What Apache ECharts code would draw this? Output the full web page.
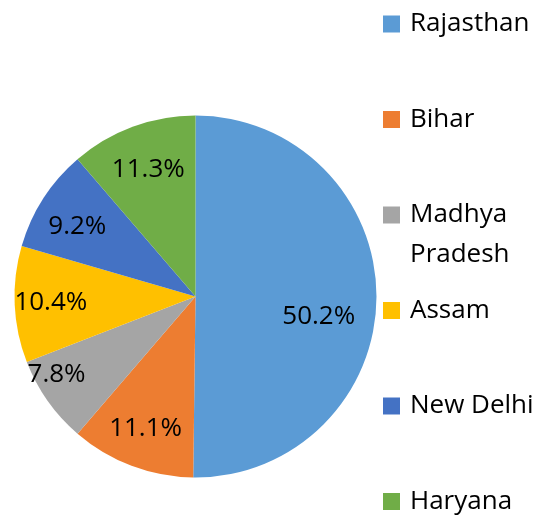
<!DOCTYPE html>
<html>
<head>
<meta charset="utf-8">
<script src="https://cdn.jsdelivr.net/npm/echarts@6/dist/echarts.min.js"></script>
<style>
  html, body { margin: 0; padding: 0; background: #fff; }
  #chart { width: 546px; height: 517px; }
</style>
</head>
<body>
<div id="chart"></div>
<script>
// states and their share (%)
const states = ['Rajasthan', 'Bihar', 'Madhya Pradesh', 'Assam', 'New Delhi', 'Haryana'];
const shares = [50.2, 11.1, 7.8, 10.4, 9.2, 11.3];
const colors = ['#5B9BD5', '#ED7D31', '#A5A5A5', '#FFC000', '#4472C4', '#70AD47'];

// label placement (fraction of radius, angular nudge in degrees) - mimics excel best fit
const labelDist = [0.69, 0.78, 0.88, 0.80, 0.76, 0.75];
const labelNudge = [9, 0, 6, 0, -2, 0];

const cx = 195.5, cy = 296.5, R = 181;
const font = '"Open Sans", sans-serif';

let chart = echarts.init(document.getElementById('chart'));

let total = shares.reduce((a, b) => a + b, 0);
let mids = [];
let acc = 0;
shares.forEach(v => {
    mids.push((acc + v / 2) / total * 360);
    acc += v;
});

// one legend per item so the two-line entry can keep its icon on the first line
let legends = states.map((name, i) => ({
    data: [name],
    orient: 'vertical',
    left: 383,
    top: 24 + i * 95.5 - (name === 'Madhya Pradesh' ? 60 : 20),
    padding: 0,
    itemWidth: 17,
    itemHeight: 17,
    icon: 'rect',
    selectedMode: false,
    formatter: n => n === 'Madhya Pradesh' ? ' \nMadhya\nPradesh' : n,
    textStyle: {
        fontSize: 26,
        lineHeight: 40,
        color: '#000',
        fontFamily: font,
        padding: [0, 0, 0, 5]
    }
}));

let option = {
    animation: false,
    color: colors,
    legend: legends,
    series: [{
        type: 'pie',
        center: [cx, cy],
        radius: R,
        startAngle: 90,
        clockwise: true,
        data: states.map((name, i) => ({ name: name, value: shares[i] })),
        itemStyle: { borderWidth: 0 },
        label: {
            show: true,
            position: 'inside',
            fontSize: 26,
            color: '#000',
            fontFamily: font,
            formatter: p => p.value.toFixed(1) + '%'
        },
        labelLine: { show: false },
        labelLayout: function (params) {
            let i = params.dataIndex;
            let a = (mids[i] + labelNudge[i]) * Math.PI / 180;
            let d = labelDist[i] * R;
            return {
                x: cx + d * Math.sin(a),
                y: cy - d * Math.cos(a),
                align: 'center',
                verticalAlign: 'middle'
            };
        }
    }]
};
chart.setOption(option);

window.addEventListener('resize', () => {
    chart.resize()
})
</script>
</body>
</html>
